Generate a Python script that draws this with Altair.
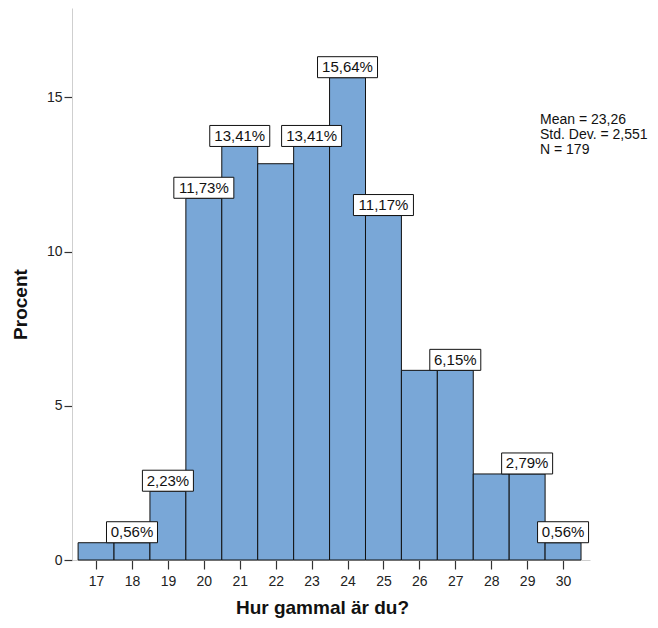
import altair as alt
import pandas as pd

# --- data ---
ages = list(range(17, 31))
percents = [0.56, 0.56, 2.23, 11.73, 13.41, 12.85, 13.41, 15.64, 11.17, 6.15, 6.15, 2.79, 2.79, 0.56]
label_ages = [18, 19, 20, 21, 23, 24, 25, 27, 29, 30]
label_texts = ["0,56%", "2,23%", "11,73%", "13,41%", "13,41%", "15,64%", "11,17%", "6,15%", "2,79%", "0,56%"]
stats_lines = ["Mean = 23,26", "Std. Dev. = 2,551", "N = 179"]
x_ticks = list(range(17, 31))
y_ticks = [0, 5, 10, 15]

bars = pd.DataFrame({"age": ages, "pct": percents})
pct_by_age = dict(zip(ages, percents))
labels = pd.DataFrame({
    "age": label_ages,
    "pct": [pct_by_age[a] for a in label_ages],
    "label": label_texts,
})
stats = pd.DataFrame({"lines": [stats_lines]})

FONT = "Liberation Sans"
BAR_FILL = "#79A7D7"

x_scale = alt.Scale(domain=[16.33, 30.75], nice=False, zero=False)
y_scale = alt.Scale(domain=[0, 17.9], nice=False)

x_axis = alt.Axis(
    values=x_ticks, format="d", title="Hur gammal är du?", grid=False,
    labelFontSize=14, labelColor="#222", labelFont=FONT, labelPadding=5,
    labelOverlap=False, labelFlush=False,
    tickSize=9, tickColor="#333", tickWidth=1.2, domainColor="#cfcfcf",
    titleFont=FONT, titleFontSize=19, titleFontWeight="bold", titleColor="#111",
    titlePadding=10, titleX=250,
)
y_axis = alt.Axis(
    values=y_ticks, title="Procent", grid=False,
    labelFontSize=14, labelColor="#222", labelFont=FONT, labelPadding=2,
    labelOverlap=False, labelFlush=False,
    tickSize=8, tickColor="#333", tickWidth=1.2, domainColor="#cfcfcf",
    titleFont=FONT, titleFontSize=19, titleFontWeight="bold", titleColor="#111",
    titlePadding=16, titleY=296,
)

base_bars = alt.Chart(bars).transform_calculate(
    x0="datum.age - 0.5", x1="datum.age + 0.5"
)

bar_layer = base_bars.mark_rect(
    fill=BAR_FILL, stroke="#111", strokeWidth=1
).encode(
    x=alt.X("x0:Q", scale=x_scale, axis=x_axis, title="Hur gammal är du?"),
    x2="x1:Q",
    y=alt.Y("pct:Q", scale=y_scale, axis=y_axis, title="Procent"),
    y2=alt.datum(0),
)

lab = alt.Chart(labels).transform_calculate(n="length(datum.label)")

box5 = lab.transform_filter("datum.n <= 5").mark_rect(
    fill="white", stroke="#111", strokeWidth=1,
    xOffset=-25.5, x2Offset=25.5, y2Offset=-21,
).encode(
    x=alt.X("age:Q", scale=x_scale, axis=x_axis, title="Hur gammal är du?"), x2="age:Q",
    y=alt.Y("pct:Q", scale=y_scale, axis=y_axis, title="Procent"), y2="pct:Q",
)
box6 = lab.transform_filter("datum.n > 5").mark_rect(
    fill="white", stroke="#111", strokeWidth=1,
    xOffset=-30, x2Offset=30, y2Offset=-21,
).encode(
    x=alt.X("age:Q", scale=x_scale, axis=x_axis, title="Hur gammal är du?"), x2="age:Q",
    y=alt.Y("pct:Q", scale=y_scale, axis=y_axis, title="Procent"), y2="pct:Q",
)
label_text = lab.mark_text(
    font=FONT, fontSize=15, color="#111", dy=-10.5, baseline="middle", align="center"
).encode(
    x=alt.X("age:Q", scale=x_scale, axis=x_axis, title="Hur gammal är du?"),
    y=alt.Y("pct:Q", scale=y_scale, axis=y_axis, title="Procent"),
    text="label:N",
)

stats_text = alt.Chart(stats).mark_text(
    font=FONT, fontSize=14, color="#111", align="left", baseline="top", lineHeight=15
).encode(
    x=alt.value(468), y=alt.value(105), text="lines:N"
)

chart = alt.layer(bar_layer, box5, box6, label_text, stats_text).properties(
    width=518, height=552,
    autosize=alt.AutoSizeParams(type="none"),
    padding={"left": 64, "top": 0, "right": 60, "bottom": 60},
    background="white",
).configure_view(stroke=None)

chart.save("out.html", embed_options={"renderer": "svg", "actions": False})
